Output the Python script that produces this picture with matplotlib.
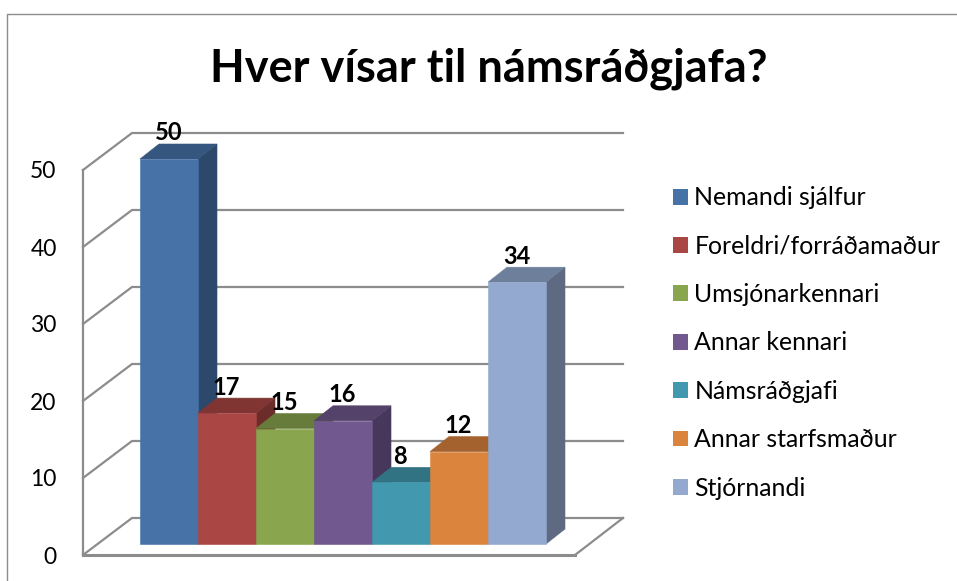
import matplotlib
matplotlib.use("Agg")
import matplotlib.pyplot as plt
from matplotlib.colors import to_rgb
from matplotlib.lines import Line2D
from matplotlib.patches import Patch, Polygon

categories = ["Nemandi sjálfur", "Foreldri/forráðamaður", "Umsjónarkennari", "Annar kennari",
              "Námsráðgjafi", "Annar starfsmaður", "Stjórnandi"]
values = [50, 17, 15, 16, 8, 12, 34]
colors = ["#4672A8", "#AA4643", "#89A54E", "#71588F", "#4198AF", "#DB843D", "#93A9CF"]
yticks = [0, 10, 20, 30, 40, 50]

W, H = 957, 581
px_x = 58.0  # pixels per category
px_y = 7.7  # pixels per value unit
dx = 19 / px_x  # bar depth
dy = 15 / px_y
wall_dx = 49 / px_x
wall_dy = 37 / px_y
lift = 11 / px_y  # bars stand on the floor, above the front edge

plt.rcParams["font.family"] = ["Lato", "DejaVu Sans"]
fig = plt.figure(figsize=(W / 100, H / 100), dpi=100)

# frame of the chart area
fig.add_artist(Line2D([7.5 / W, 7.5 / W, 1], [0, 1 - 13.5 / H, 1 - 13.5 / H], color="#8c8c8c", lw=1))

ax = fig.add_axes([83 / W, 1 - 555 / H, 540 / W, 422 / H])
x0 = (83 - 169) / px_x
x1 = (623 - 169) / px_x
front_end = (575 - 169) / px_x
ax.set_xlim(x0, x1)
ax.set_ylim(0, 422 / px_y)
for where in ["top", "right", "bottom", "left"]:
    ax.spines[where].set_visible(False)
ax.set_xticks([])
ax.set_yticks(yticks)
ax.set_yticklabels(yticks, fontsize=16.5, color="black")
ax.tick_params(axis="y", length=0, pad=19)
ax.patch.set_alpha(0)

grid = {"color": "#8c8c8c", "lw": 1.6, "zorder": 1, "clip_on": False, "solid_joinstyle": "miter"}
for v in yticks:
    ax.plot([x0, x0 + wall_dx, x1], [v, v + wall_dy, v + wall_dy], **grid)
ax.plot([x0, x0], [0, 50], **grid)
ax.plot([x0, front_end], [0, 0], color="#8c8c8c", lw=2.2, zorder=1, clip_on=False)
ax.plot([front_end, x1], [0, wall_dy], **grid)

for i, (v, c) in enumerate(zip(values, colors)):
    rgb = to_rgb(c)
    side = tuple(k * 0.63 for k in rgb)
    top = tuple(k * 0.75 for k in rgb)
    left, right = i - 0.5, i + 0.5
    z = 2 + i
    ax.add_patch(Polygon([(right, lift), (right + dx, lift + dy), (right + dx, lift + v + dy), (right, lift + v)],
                         fc=side, ec=side, lw=0.4, zorder=z, clip_on=False))
    ax.add_patch(Polygon([(left, lift + v), (left + dx, lift + v + dy), (right + dx, lift + v + dy), (right, lift + v)],
                         fc=top, ec=top, lw=0.4, zorder=z, clip_on=False))
    ax.bar(i, v, width=1, bottom=lift, color=c, ec=c, lw=0.4, zorder=z, clip_on=False)
    ax.text(i - 0.01, lift + v + 26 / px_y, str(v), ha="center", va="center", fontsize=17,
            fontweight="bold", zorder=20, clip_on=False)

fig.text(488.5 / W, 1 - 69 / H, "Hver vísar til námsráðgjafa?", ha="center", va="center",
         fontsize=32.5, fontweight="bold")

handles = [Patch(fc=c, ec="none") for c in colors]
fs = 17.9
fig.legend(handles, categories, loc="center left", bbox_to_anchor=(673 / W, 1 - 343 / H),
           frameon=False, fontsize=fs, handlelength=10.8 / fs, handleheight=10.8 / fs,
           handletextpad=0.26, labelspacing=1.02, borderpad=0, borderaxespad=0)

plt.savefig("out.png", dpi=100)
